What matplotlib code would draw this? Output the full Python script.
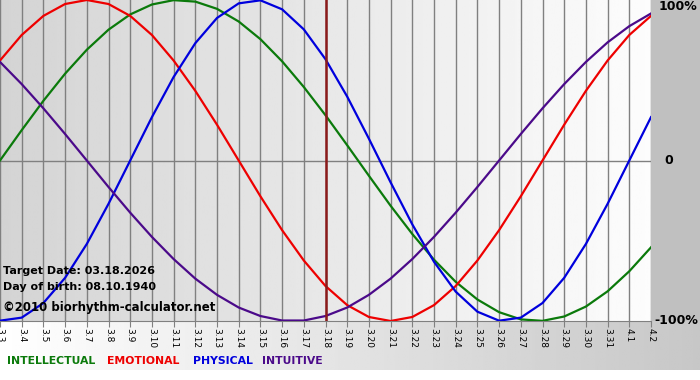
import numpy as np
import matplotlib
matplotlib.use('Agg')
import matplotlib.pyplot as plt
from matplotlib.patches import Rectangle

# day labels along the bottom (3.3 .. 4.2)
days = ['3.%d' % d for d in range(3, 32)] + ['4.1', '4.2']
target_day = '3.18'

# values read at each day tick (-1 .. 1)
physical = [-0.998, -0.979, -0.888, -0.731, -0.520, -0.270, 0.000, 0.270,
            0.520, 0.731, 0.888, 0.979, 0.998, 0.942, 0.817, 0.631, 0.398,
            0.136, -0.136, -0.398, -0.631, -0.817, -0.942, -0.998, -0.979,
            -0.888, -0.731, -0.520, -0.270, 0.000, 0.270]
emotional = [0.623, 0.782, 0.901, 0.975, 1.000, 0.975, 0.901, 0.782, 0.623,
             0.434, 0.223, 0.000, -0.223, -0.434, -0.623, -0.782, -0.901,
             -0.975, -1.000, -0.975, -0.901, -0.782, -0.623, -0.434, -0.223,
             0.000, 0.223, 0.434, 0.623, 0.782, 0.901]
intellectual = [0.000, 0.189, 0.372, 0.541, 0.690, 0.815, 0.910, 0.972,
                0.999, 0.990, 0.945, 0.866, 0.756, 0.618, 0.458, 0.282,
                0.095, -0.095, -0.282, -0.458, -0.618, -0.756, -0.866,
                -0.945, -0.990, -0.999, -0.972, -0.910, -0.815, -0.690, -0.541]
intuitive = [0.614, 0.476, 0.325, 0.165, 0.000, -0.165, -0.325, -0.476,
             -0.614, -0.736, -0.837, -0.916, -0.969, -0.997, -0.997, -0.969,
             -0.916, -0.837, -0.736, -0.614, -0.476, -0.325, -0.165, 0.000,
             0.165, 0.325, 0.476, 0.614, 0.736, 0.837, 0.916]

C_INT = '#0b7a0b'
C_EMO = '#ee0000'
C_PHY = '#0000dd'
C_ITU = '#4b0a8a'

W, H = 700, 380
fig = plt.figure(figsize=(7, 3.8), dpi=100, facecolor='white')

# figure backgrounds: gray right margin, gradient strip under the plot
bg = fig.add_axes([0, 0, 1, 1])
bg.set_xlim(0, W)
bg.set_ylim(H, 0)
bg.axis('off')
bg.add_patch(Rectangle((651, 0), 49, 321, color='#c0c0c0', lw=0))
grad = np.linspace(1.0, 0.78, 256).reshape(1, -1)
bg.imshow(grad, extent=(0, W, 370, 321), aspect='auto', cmap='gray',
          vmin=0, vmax=1, zorder=0)

ax = fig.add_axes([0, 59 / H, 651 / W, 321 / H])
x = np.arange(len(days))
ax.set_xlim(0, len(days) - 1)
ax.set_ylim(-1, 1)
pgrad = np.linspace(0.83, 0.99, 256).reshape(1, -1)
ax.imshow(pgrad, extent=(0, len(days) - 1, -1, 1), aspect='auto', cmap='gray',
          vmin=0, vmax=1, zorder=0)

for xi in x:
    ax.axvline(xi, color='#808080', lw=1, zorder=1)
ax.axhline(0, color='#808080', lw=1, zorder=1)

ax.plot(x, intellectual, color=C_INT, lw=1.6, zorder=3)
ax.plot(x, emotional, color=C_EMO, lw=1.6, zorder=3)
ax.plot(x, physical, color=C_PHY, lw=1.6, zorder=3)
ax.plot(x, intuitive, color=C_ITU, lw=1.6, zorder=3)
ax.axvline(days.index(target_day), color='#8b1a1a', lw=1.8, zorder=4)

for s in ['top', 'left', 'right']:
    ax.spines[s].set_visible(False)
ax.spines['bottom'].set_color('#808080')
ax.set_yticks([])
ax.set_xticks(x)
ax.set_xticklabels(days, rotation=270, fontsize=6.5)
ax.tick_params(axis='x', length=4, color='#808080', pad=1)

tr = ax.get_yaxis_transform()
ax.text(1.012, 1.0, '100%', transform=tr, ha='left', va='top',
        fontsize=9, fontweight='bold', clip_on=False)
ax.text(1.02, 0.0, '0', transform=tr, ha='left', va='center',
        fontsize=9, fontweight='bold', clip_on=False)
ax.text(1.005, -1.0, '-100%', transform=tr, ha='left', va='center',
        fontsize=9, fontweight='bold', clip_on=False)

ax.text(3, 270, 'Target Date: 03.18.2026', transform=None, fontsize=8,
        fontweight='bold', va='center')

# texts placed in pixel coordinates (from top)
def ptext(px, py, s, **kw):
    fig.text(px / W, 1 - py / H, s, va='center', ha='left', **kw)

ax.texts[-1].remove()
ptext(3, 271, 'Target Date: 03.18.2026', fontsize=8, fontweight='bold')
ptext(3, 287, 'Day of birth: 08.10.1940', fontsize=8, fontweight='bold')
ptext(3, 307, '\u00a92010 biorhythm-calculator.net', fontsize=8.5, fontweight='bold')

ptext(7, 361, 'INTELLECTUAL', color=C_INT, fontsize=7.8, fontweight='bold')
ptext(107, 361, 'EMOTIONAL', color=C_EMO, fontsize=7.8, fontweight='bold')
ptext(193, 361, 'PHYSICAL', color=C_PHY, fontsize=7.8, fontweight='bold')
ptext(262, 361, 'INTUITIVE', color=C_ITU, fontsize=7.8, fontweight='bold')

fig.savefig('out.png', dpi=100, facecolor='white')
